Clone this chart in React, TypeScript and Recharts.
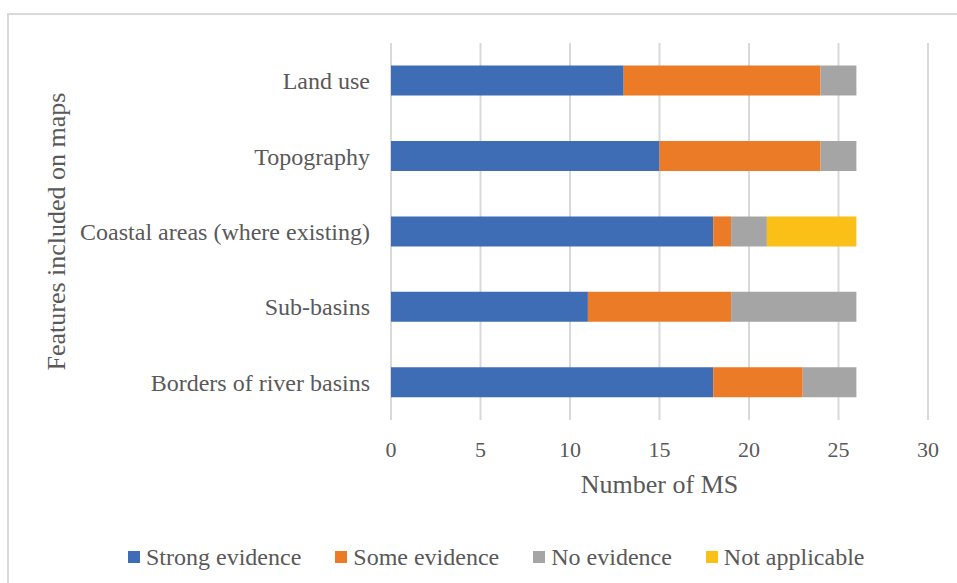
import { BarChart, Bar, XAxis, YAxis, CartesianGrid, Legend } from "recharts";

const FEATURES = [
  "Land use",
  "Topography",
  "Coastal areas (where existing)",
  "Sub-basins",
  "Borders of river basins",
];
const STRONG = [13, 15, 18, 11, 18];
const SOME = [11, 9, 1, 8, 5];
const NONE = [2, 2, 2, 7, 3];
const NOT_APPLICABLE = [0, 0, 5, 0, 0];

const X_TICKS = [0, 5, 10, 15, 20, 25, 30];

const SERIES = [
  { key: "strong", label: "Strong evidence", color: "#3F6DB5" },
  { key: "some", label: "Some evidence", color: "#EC7B28" },
  { key: "none", label: "No evidence", color: "#A5A5A5" },
  { key: "na", label: "Not applicable", color: "#FBC018" },
];

const FONT = '"Liberation Serif", "Times New Roman", serif';
const TEXT = "#595959";
const GRID = "#d9d9d9";

const data = FEATURES.map((name, i) => ({
  name,
  strong: STRONG[i],
  some: SOME[i],
  none: NONE[i],
  na: NOT_APPLICABLE[i],
}));

function LegendRow() {
  return (
    <div
      style={{
        display: "flex",
        alignItems: "center",
        height: 30,
        paddingLeft: 128,
        gap: 34,
        fontFamily: FONT,
        fontSize: 24,
        color: TEXT,
      }}
    >
      {SERIES.map((s) => (
        <div key={s.key} style={{ display: "flex", alignItems: "center" }}>
          <div style={{ width: 12, height: 12, background: s.color, marginRight: 6 }} />
          <span style={{ whiteSpace: "nowrap", lineHeight: "30px" }}>{s.label}</span>
        </div>
      ))}
    </div>
  );
}

export default function App() {
  return (
    <div
      style={{
        position: "absolute",
        left: 0,
        top: 0,
        width: 957,
        height: 583,
        overflow: "hidden",
        background: "#fff",
      }}
    >
      {/* chart frame, runs off the right and bottom edges */}
      <div
        style={{
          position: "absolute",
          left: 7,
          top: 13,
          width: 1000,
          height: 700,
          border: `2px solid ${GRID}`,
        }}
      />
      <BarChart
        width={957}
        height={583}
        data={data}
        layout="vertical"
        barCategoryGap="30%"
        margin={{ top: 43, right: 29, left: 0, bottom: 53 }}
        style={{ position: "absolute", left: 0, top: 0 }}
      >
        <CartesianGrid horizontal={false} stroke={GRID} strokeWidth={2} />
        <XAxis
          type="number"
          domain={[0, 30]}
          ticks={X_TICKS}
          height={80}
          axisLine={false}
          tickLine={false}
          tickSize={0}
          tickMargin={21}
          tick={{ fontSize: 22, fill: TEXT, fontFamily: FONT }}
          label={{
            value: "Number of MS",
            position: "insideBottom",
            offset: 7,
            style: { fontSize: 26, fill: TEXT, fontFamily: FONT },
          }}
        />
        <YAxis
          type="category"
          dataKey="name"
          width={391}
          axisLine={false}
          tickLine={false}
          tickSize={0}
          tickMargin={21}
          tick={{ fontSize: 24, fill: TEXT, fontFamily: FONT }}
          label={{
            value: "Features included on maps",
            angle: -90,
            position: "insideLeft",
            offset: 56,
            style: { fontSize: 26, fill: TEXT, fontFamily: FONT, textAnchor: "middle" },
          }}
        />
        <Legend
          verticalAlign="bottom"
          content={() => <LegendRow />}
          wrapperStyle={{ top: 542, bottom: "auto", left: 0, width: 957, height: 30 }}
        />
        {SERIES.map((s) => (
          <Bar
            key={s.key}
            dataKey={s.key}
            name={s.label}
            stackId="a"
            fill={s.color}
            isAnimationActive={false}
          />
        ))}
      </BarChart>
    </div>
  );
}
